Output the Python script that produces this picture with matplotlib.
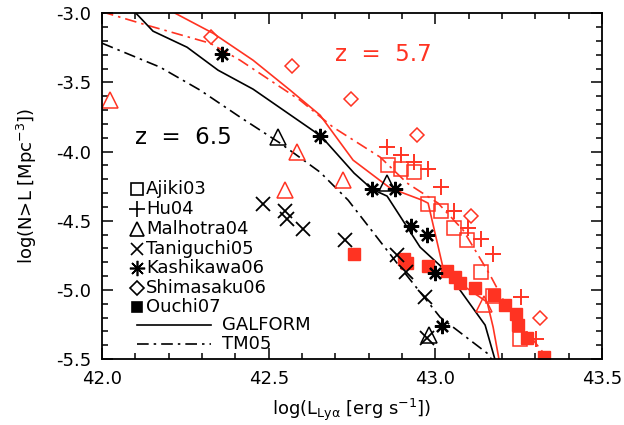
import matplotlib
matplotlib.use('Agg')
import matplotlib.pyplot as plt
from matplotlib.ticker import MultipleLocator

RED = '#ff3322'

# z = 5.7 data
ajiki_x = [42.858, 42.897, 42.936, 42.978, 43.017, 43.056, 43.095, 43.137, 43.173, 43.254]
ajiki_y = [-4.098, -4.127, -4.149, -4.380, -4.431, -4.553, -4.640, -4.871, -5.045, -5.355]
hu_x = [42.855, 42.897, 42.936, 42.978, 43.017, 43.056, 43.098, 43.137, 43.173, 43.257, 43.302]
hu_y = [-3.968, -4.026, -4.077, -4.127, -4.257, -4.431, -4.553, -4.633, -4.741, -5.052, -5.355]
shima_x = [42.327, 42.570, 42.747, 42.945, 43.107, 43.314]
shima_y = [-3.173, -3.383, -3.621, -3.882, -4.467, -5.204]
malh57_x = [42.024, 42.585, 42.549, 42.723, 43.146]
malh57_y = [-3.629, -4.004, -4.279, -4.207, -5.103]
ouchi_x = [42.756, 42.906, 42.915, 42.978, 43.035, 43.059, 43.074, 43.119, 43.176, 43.209, 43.242, 43.248, 43.275, 43.326]
ouchi_y = [-4.741, -4.777, -4.806, -4.828, -4.864, -4.908, -4.951, -4.987, -5.038, -5.110, -5.175, -5.254, -5.348, -5.486]

# z = 6.5 data
kashi_x = [42.360, 42.654, 42.810, 42.879, 42.927, 42.975, 42.999, 43.020]
kashi_y = [-3.296, -3.889, -4.272, -4.272, -4.539, -4.604, -4.879, -5.262]
malh65_x = [42.528, 42.855, 42.981]
malh65_y = [-3.896, -4.228, -5.327]
tani_x = [42.483, 42.549, 42.555, 42.603, 42.729, 42.885, 42.912, 42.969, 42.975]
tani_y = [-4.380, -4.431, -4.488, -4.561, -4.640, -4.749, -4.871, -5.052, -5.348]

# model curves
galf57_x = [42.200, 42.219, 42.333, 42.453, 42.564, 42.654, 42.753, 42.864, 42.960, 42.978, 43.023, 43.059, 43.155, 43.173, 43.191]
galf57_y = [-2.870, -3.000, -3.145, -3.340, -3.556, -3.737, -4.062, -4.264, -4.351, -4.373, -4.842, -4.929, -5.088, -5.269, -5.507]
tm57_x = [42.000, 42.135, 42.324, 42.414, 42.594, 42.693, 42.834, 42.915, 43.008, 43.083, 43.164, 43.215, 43.329, 43.340]
tm57_y = [-2.990, -3.087, -3.217, -3.340, -3.629, -3.824, -4.040, -4.228, -4.373, -4.568, -4.893, -5.124, -5.471, -5.507]
galf65_x = [42.078, 42.153, 42.255, 42.348, 42.453, 42.657, 42.756, 42.810, 42.855, 42.954, 43.035, 43.149, 43.179]
galf65_y = [-2.940, -3.130, -3.246, -3.412, -3.549, -3.889, -4.156, -4.272, -4.322, -4.691, -4.871, -5.254, -5.507]
tm65_x = [42.000, 42.174, 42.294, 42.414, 42.534, 42.654, 42.738, 42.894, 43.014, 43.155, 43.170]
tm65_y = [-3.217, -3.390, -3.556, -3.751, -3.939, -4.149, -4.351, -4.835, -5.197, -5.457, -5.507]

legend_names = ['Ajiki03', 'Hu04', 'Malhotra04', 'Taniguchi05', 'Kashikawa06', 'Shimasaku06', 'Ouchi07']
legend_marks = ['s', '+', '^', 'x', (8, 2, 0), 'D', 's']

plt.rcParams['font.family'] = 'DejaVu Sans'
plt.rcParams['mathtext.default'] = 'regular'

fig = plt.figure(figsize=(6.24, 4.25), dpi=100)
ax = fig.add_axes([0.1635, 0.155, 0.8015, 0.814])

dd = (0, (7, 3, 1.5, 3))
ax.plot(galf57_x, galf57_y, color=RED, lw=1.2)
ax.plot(tm57_x, tm57_y, color=RED, lw=1.2, ls=dd)
ax.plot(galf65_x, galf65_y, color='k', lw=1.2)
ax.plot(tm65_x, tm65_y, color='k', lw=1.2, ls=dd)

op = dict(ls='none', mfc='none', mew=1.1)
ax.plot(ajiki_x, ajiki_y, marker='s', ms=10, mec=RED, **op)
ax.plot(hu_x, hu_y, marker='+', ms=12, mec=RED, mew=1.4, ls='none')
ax.plot(shima_x, shima_y, marker='D', ms=7.5, mec=RED, **op)
ax.plot(malh57_x, malh57_y, marker='^', ms=11, mec=RED, **op)
ax.plot(ouchi_x, ouchi_y, marker='s', ms=8, color=RED, ls='none')

ax.plot(kashi_x, kashi_y, marker=(8, 2, 0), ms=11, mec='k', mew=1.6, ls='none')
ax.plot(malh65_x, malh65_y, marker='^', ms=11, mec='k', **op)
ax.plot(tani_x, tani_y, marker='x', ms=10, mec='k', mew=1.3, ls='none')

# legend drawn by hand, IDL style
rows = [189, 209, 229, 249, 268, 288, 307]
for name, m, r in zip(legend_names, legend_marks, rows):
    yf = (359 - r) / 346.0
    filled = name == 'Ouchi07'
    ms = {'s': 9, '+': 11, '^': 10, 'x': 9, 'D': 7}.get(m, 11) if not filled else 7
    ax.plot([0.07], [yf], transform=ax.transAxes, marker=m, ms=ms, ls='none',
            mec='k', mfc='k' if filled else 'none', mew=1.2, clip_on=False)
    ax.text(0.088, yf, name, transform=ax.transAxes, fontsize=13, va='center', ha='left')
for r, ls, name in [(325, '-', 'GALFORM'), (344, dd, 'TM05')]:
    yf = (359 - r) / 346.0
    ax.plot([0.07, 0.218], [yf, yf], transform=ax.transAxes, color='k', lw=1.2, ls=ls)
    ax.text(0.24, yf, name, transform=ax.transAxes, fontsize=13, va='center', ha='left')

ax.text(42.1, -3.9, 'z  =  6.5', fontsize=16.5, va='center', ha='left')
ax.text(42.7, -3.30, 'z  =  5.7', fontsize=16.5, va='center', ha='left', color=RED)

ax.set_xlim(42.0, 43.5)
ax.set_ylim(-5.5, -3.0)
ax.xaxis.set_major_locator(MultipleLocator(0.5))
ax.xaxis.set_minor_locator(MultipleLocator(0.1))
ax.yaxis.set_major_locator(MultipleLocator(0.5))
ax.yaxis.set_minor_locator(MultipleLocator(0.1))
ax.xaxis.set_major_formatter(plt.FormatStrFormatter('%.1f'))
ax.yaxis.set_major_formatter(plt.FormatStrFormatter('%.1f'))
ax.tick_params(which='both', direction='in', top=True, right=True, labelsize=13, width=1.1)
ax.tick_params(which='major', length=8, pad=8)
ax.tick_params(which='minor', length=4.5)
for s in ax.spines.values():
    s.set_linewidth(1.3)

ax.set_xlabel(r'log(L$_{Ly\alpha}$ [erg s$^{-1}$])', fontsize=13, labelpad=6)
ax.set_ylabel(r'log(N>L [Mpc$^{-3}$])', fontsize=13, labelpad=12)

fig.savefig('out.png', dpi=100)
